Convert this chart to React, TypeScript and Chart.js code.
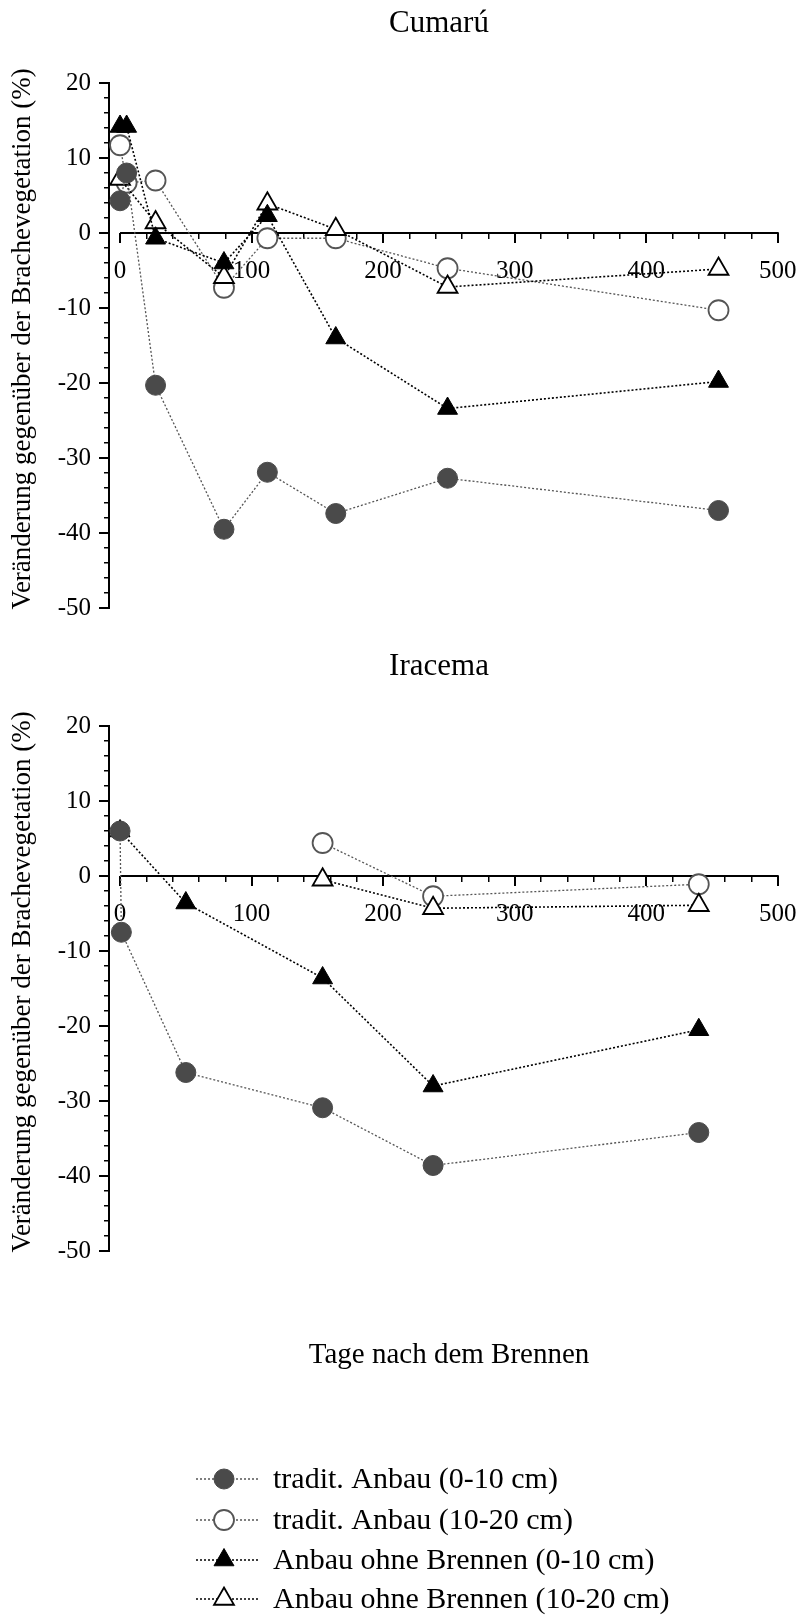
import React, { useEffect, useRef } from 'react';
import { Chart, registerables } from 'chart.js';

Chart.register(...registerables);

const FONT = "'Liberation Serif', 'Times New Roman', Times, serif";

// ---------- data ----------
const cumaruDays = [0, 5, 27, 79, 112, 164, 249, 455];
const cumaruTradit010 = [4.3, 8.0, -20.3, -39.5, -31.9, -37.4, -32.7, -37.0];
const cumaruTradit1020 = [11.7, 6.7, 7.0, -7.3, -0.7, -0.7, -4.7, -10.3];
const cumaruOhne010 = [14.2, 14.2, -0.7, -4.0, 2.3, -14.0, -23.4, -19.8];
const cumaruOhne1020 = [7.2, null, 1.4, -5.9, 3.9, 0.5, -7.2, -4.8];

const iracemaDays = [0, 1, 50, 154, 238, 440];
const iracemaTradit010 = [6.0, -7.5, -26.2, -30.9, -38.6, -34.2];
const iracemaTradit1020 = [null, null, null, 4.4, -2.7, -1.1];
const iracemaOhne010 = [6.0, null, -3.6, -13.6, -28.0, -20.5];
const iracemaOhne1020 = [null, null, null, -0.5, -4.3, -3.9];

const seriesLabels = [
  'tradit. Anbau (0-10 cm)',
  'tradit. Anbau (10-20 cm)',
  'Anbau ohne Brennen (0-10 cm)',
  'Anbau ohne Brennen (10-20 cm)',
];

const xMajorTicks = [0, 100, 200, 300, 400, 500];
const xMinorTicks = [0, 20, 40, 60, 80, 100, 120, 140, 160, 180, 200, 220, 240, 260, 280, 300, 320, 340, 360, 380, 400, 420, 440, 460, 480, 500];
const yMajorTicks = [-50, -40, -30, -20, -10, 0, 10, 20];
const yMinorTicks = [-50, -48, -46, -44, -42, -40, -38, -36, -34, -32, -30, -28, -26, -24, -22, -20, -18, -16, -14, -12, -10, -8, -6, -4, -2, 0, 2, 4, 6, 8, 10, 12, 14, 16, 18, 20];

const X_MIN = -8.4;
const X_MAX = 500;
const Y_MIN = -50;
const Y_MAX = 20;

const yTitle = 'Veränderung gegenüber der Brachevegetation (%)';
const xTitle = 'Tage nach dem Brennen';

// ---------- styles ----------
const STYLES = [
  { shape: 'circle', r: 10, fill: '#4a4a4a', stroke: '#4a4a4a', pw: 1, line: '#555555', lw: 1.3, order: 0 },
  { shape: 'circle', r: 10, fill: '#ffffff', stroke: '#555555', pw: 1.8, line: '#555555', lw: 1.3, order: 3 },
  { shape: 'triangle', r: 11.5, fill: '#000000', stroke: '#000000', pw: 1, line: '#000000', lw: 1.6, order: 1 },
  { shape: 'triangle', r: 11.5, fill: '#ffffff', stroke: '#000000', pw: 1.8, line: '#000000', lw: 1.6, order: 2 },
];

const Y_AXIS_BOX = 70;
const PLOT_LEFT = 109;

function drawMarker(ctx: CanvasRenderingContext2D, st: any, x: number, y: number) {
  ctx.save();
  ctx.setLineDash([]);
  ctx.beginPath();
  if (st.shape === 'circle') {
    ctx.arc(x, y, st.r, 0, Math.PI * 2);
  } else {
    let rad = 0;
    ctx.moveTo(x + Math.sin(rad) * st.r, y - Math.cos(rad) * st.r);
    rad += (2 * Math.PI) / 3;
    ctx.lineTo(x + Math.sin(rad) * st.r, y - Math.cos(rad) * st.r);
    rad += (2 * Math.PI) / 3;
    ctx.lineTo(x + Math.sin(rad) * st.r, y - Math.cos(rad) * st.r);
    ctx.closePath();
  }
  ctx.fillStyle = st.fill;
  ctx.fill();
  ctx.lineWidth = st.pw;
  ctx.strokeStyle = st.stroke;
  ctx.stroke();
  ctx.restore();
}

function makeDecor(title: string, footer: boolean) {
  return {
    id: 'decor',
    beforeDatasetsDraw(chart: any) {
      const { ctx, scales } = chart;
      const y0 = scales.y.getPixelForValue(0);
      ctx.save();
      ctx.strokeStyle = '#000';
      ctx.lineWidth = 2;
      ctx.beginPath();
      ctx.moveTo(scales.x.getPixelForValue(0), y0);
      ctx.lineTo(scales.x.getPixelForValue(X_MAX) + 1, y0);
      ctx.stroke();
      ctx.restore();
    },
    afterDraw(chart: any) {
      const { ctx, chartArea } = chart;
      ctx.save();
      ctx.fillStyle = '#000';
      ctx.textAlign = 'center';
      ctx.textBaseline = 'alphabetic';
      ctx.font = `31px ${FONT}`;
      ctx.fillText(title, 439, chartArea.top - 51);

      ctx.save();
      ctx.translate(23, chartArea.top + 256);
      ctx.rotate(-Math.PI / 2);
      ctx.font = `27px ${FONT}`;
      ctx.textBaseline = 'middle';
      ctx.fillText(yTitle, 0, 0);
      ctx.restore();

      if (footer) {
        ctx.font = `29px ${FONT}`;
        ctx.textAlign = 'center';
        ctx.textBaseline = 'alphabetic';
        ctx.fillText(xTitle, 449, chartArea.bottom + 112);

        const rows = [836, 877, 917, 956];
        ctx.font = `30px ${FONT}`;
        ctx.textAlign = 'left';
        ctx.textBaseline = 'middle';
        seriesLabels.forEach((lab, i) => {
          const st = STYLES[i];
          const ry = rows[i];
          ctx.save();
          ctx.strokeStyle = st.line;
          ctx.lineWidth = st.lw;
          ctx.setLineDash([2, 2]);
          ctx.beginPath();
          ctx.moveTo(196, ry);
          ctx.lineTo(259, ry);
          ctx.stroke();
          ctx.restore();
          drawMarker(ctx, st, 224, ry);
          ctx.fillStyle = '#000';
          ctx.fillText(lab, 273, ry + 1);
        });
      }
      ctx.restore();
    },
  };
}

function tickSetter(list: number[]) {
  return (scale: any) => {
    scale.ticks = list.map((v) => ({ value: v }));
  };
}

function zeroPad(s: any) {
  s.paddingLeft = 0;
  s.paddingRight = 0;
  s.paddingTop = 0;
  s.paddingBottom = 0;
}

function makeConfig(days: number[], series: (number | null)[][], title: string, footer: boolean, bottomPad: number): any {
  const datasets = series.map((vals, i) => {
    const st = STYLES[i];
    const data = days
      .map((d, j) => ({ x: d, y: vals[j] }))
      .filter((p) => p.y !== null);
    return {
      label: seriesLabels[i],
      data,
      showLine: true,
      borderColor: st.line,
      borderWidth: st.lw,
      borderDash: [2, 2],
      pointStyle: st.shape,
      pointRadius: st.r,
      pointHoverRadius: st.r,
      pointBackgroundColor: st.fill,
      pointBorderColor: st.stroke,
      pointBorderWidth: st.pw,
      pointHoverBorderWidth: st.pw,
      order: st.order,
      clip: false,
      fill: false,
      tension: 0,
      xAxisID: 'x',
      yAxisID: 'y',
    };
  });

  const tickFont = { family: FONT, size: 25 };

  return {
    type: 'scatter',
    data: { datasets },
    plugins: [makeDecor(title, footer)],
    options: {
      responsive: false,
      animation: false,
      events: [],
      layout: { padding: { left: PLOT_LEFT - Y_AXIS_BOX, right: 23.3, top: 83, bottom: bottomPad } },
      plugins: {
        legend: { display: false },
        title: { display: false },
        tooltip: { enabled: false },
      },
      scales: {
        x: {
          type: 'linear',
          min: X_MIN,
          max: X_MAX,
          position: { y: 0 },
          border: { display: false },
          grid: { drawOnChartArea: false, drawTicks: true, tickLength: 10, color: '#000', lineWidth: 2 },
          ticks: { font: tickFont, color: '#000', padding: 13, maxRotation: 0, autoSkip: false },
          afterBuildTicks: tickSetter(xMajorTicks),
          afterFit: zeroPad,
        },
        xMinor: {
          type: 'linear',
          axis: 'x',
          min: X_MIN,
          max: X_MAX,
          position: { y: 0 },
          border: { display: false },
          grid: { drawOnChartArea: false, drawTicks: true, tickLength: 6, color: '#000', lineWidth: 1.5 },
          ticks: { display: false },
          afterBuildTicks: tickSetter(xMinorTicks),
          afterFit: zeroPad,
        },
        y: {
          type: 'linear',
          min: Y_MIN,
          max: Y_MAX,
          position: 'left',
          border: { display: true, color: '#000', width: 2 },
          grid: { drawOnChartArea: false, drawTicks: true, tickLength: 10, color: '#000', lineWidth: 2 },
          ticks: { font: tickFont, color: '#000', padding: 8, autoSkip: false },
          afterBuildTicks: tickSetter(yMajorTicks),
          afterFit: (s: any) => {
            s.width = Y_AXIS_BOX;
            zeroPad(s);
          },
        },
        yMinor: {
          type: 'linear',
          axis: 'y',
          min: Y_MIN,
          max: Y_MAX,
          position: { x: X_MIN },
          border: { display: false },
          grid: { drawOnChartArea: false, drawTicks: true, tickLength: 5, color: '#000', lineWidth: 1.5 },
          ticks: { display: false },
          afterBuildTicks: tickSetter(yMinorTicks),
          afterFit: zeroPad,
        },
      },
    },
  };
}

function ChartCanvas({ config, width, height }: { config: () => any; width: number; height: number }) {
  const ref = useRef<HTMLCanvasElement | null>(null);
  useEffect(() => {
    if (!ref.current) return;
    const chart = new Chart(ref.current, config());
    return () => chart.destroy();
  }, []);
  return <canvas ref={ref} width={width} height={height} style={{ display: 'block', width, height }} />;
}

export default function App() {
  return (
    <div style={{ position: 'absolute', left: 0, top: 0, width: 801, height: 1617, background: '#fff', overflow: 'hidden' }}>
      <ChartCanvas
        width={801}
        height={643}
        config={() =>
          makeConfig(cumaruDays, [cumaruTradit010, cumaruTradit1020, cumaruOhne010, cumaruOhne1020], 'Cumarú', false, 35)
        }
      />
      <ChartCanvas
        width={801}
        height={974}
        config={() =>
          makeConfig(iracemaDays, [iracemaTradit010, iracemaTradit1020, iracemaOhne010, iracemaOhne1020], 'Iracema', true, 366)
        }
      />
    </div>
  );
}
